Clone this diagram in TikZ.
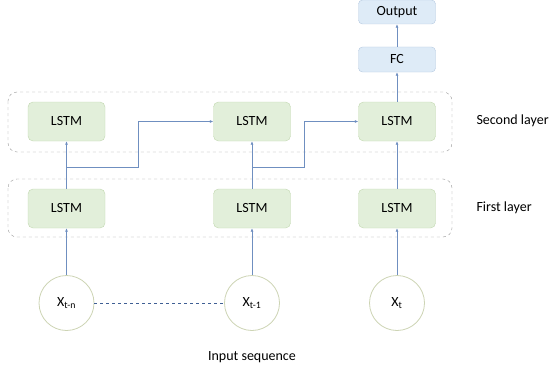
\documentclass[tikz,border=0pt]{standalone}
\usepackage{fontspec}
\setmainfont{Carlito}
\usepackage{tikz}
\usetikzlibrary{arrows.meta}

\definecolor{lstmfill}{HTML}{E2EFDA}
\definecolor{lstmline}{HTML}{C2D8B0}
\definecolor{fcfill}{HTML}{DEEBF7}
\definecolor{fcline}{HTML}{B4C8E0}
\definecolor{inline}{HTML}{CDD4B4}
\definecolor{linkblue}{HTML}{6F8FC0}
\definecolor{dashblue}{HTML}{3F5F94}

\begin{document}
\begin{tikzpicture}[x=1pt, y=-1pt, font=\fontsize{14}{16}\selectfont,
  lstm/.style={rectangle, rounded corners=5pt, draw=lstmline, fill=lstmfill, minimum width=77pt, minimum height=39pt},
  fcbox/.style={rectangle, rounded corners=4pt, draw=fcline, fill=fcfill, minimum width=77pt, minimum height=25pt},
  inp/.style={circle, draw=inline, line width=0.8pt, fill=white, minimum size=55pt, inner sep=0pt},
  layerbox/.style={draw=gray!80, dashed, rounded corners=9pt},
  link/.style={draw=linkblue, line width=0.7pt, -{Latex[length=3.5pt,width=3pt]}}]
  \useasboundingbox (0,0) rectangle (551,369);
  % layers
  \draw[layerbox] (8,92) rectangle (452,152);
  \draw[layerbox] (8,179) rectangle (452,237);
  \node [anchor=west] (lab2) at (473,121) {Second layer};
  \node [anchor=west] (lab1) at (473,208) {First layer};
  % cells
  \node [lstm] (s1) at (66.5,121.5) {LSTM};
  \node [lstm] (s2) at (252,121.5) {LSTM};
  \node [lstm] (s3) at (397,121.5) {LSTM};
  \node [lstm] (f1) at (66.5,208.5) {LSTM};
  \node [lstm] (f2) at (252,208.5) {LSTM};
  \node [lstm] (f3) at (397,208.5) {LSTM};
  \node [fcbox] (fc) at (397,59.5) {FC};
  \node [fcbox, minimum height=24pt] (out) at (397,12) {Output};
  % inputs
  \node [inp] (x1) at (66.5,303) {X\textsubscript{t-n}};
  \node [inp] (x2) at (252,303) {X\textsubscript{t-1}};
  \node [inp] (x3) at (397,303) {X\textsubscript{t}};
  \node (seq) at (252,357) {Input sequence};
  \coordinate (b1) at (66.5,167);
  \coordinate (b2) at (252,167);
  \draw [link] (x1) -- (f1);
  \draw [link] (x2) -- (f2);
  \draw [link] (x3) -- (f3);
  \draw [link] (f1) -- (s1);
  \draw [link] (f2) -- (s2);
  \draw [link] (f3) -- (s3);
  \draw [link] (b1) -- ++(71.5,0) |- (s2.west);
  \draw [link] (b2) -- ++(52,0) |- (s3.west);
  \draw [link] (s3) -- (fc);
  \draw [link] (fc) -- (out);
  \draw [dashblue, dashed, line width=0.8pt] (x1) -- (x2);
\end{tikzpicture}
\end{document}
